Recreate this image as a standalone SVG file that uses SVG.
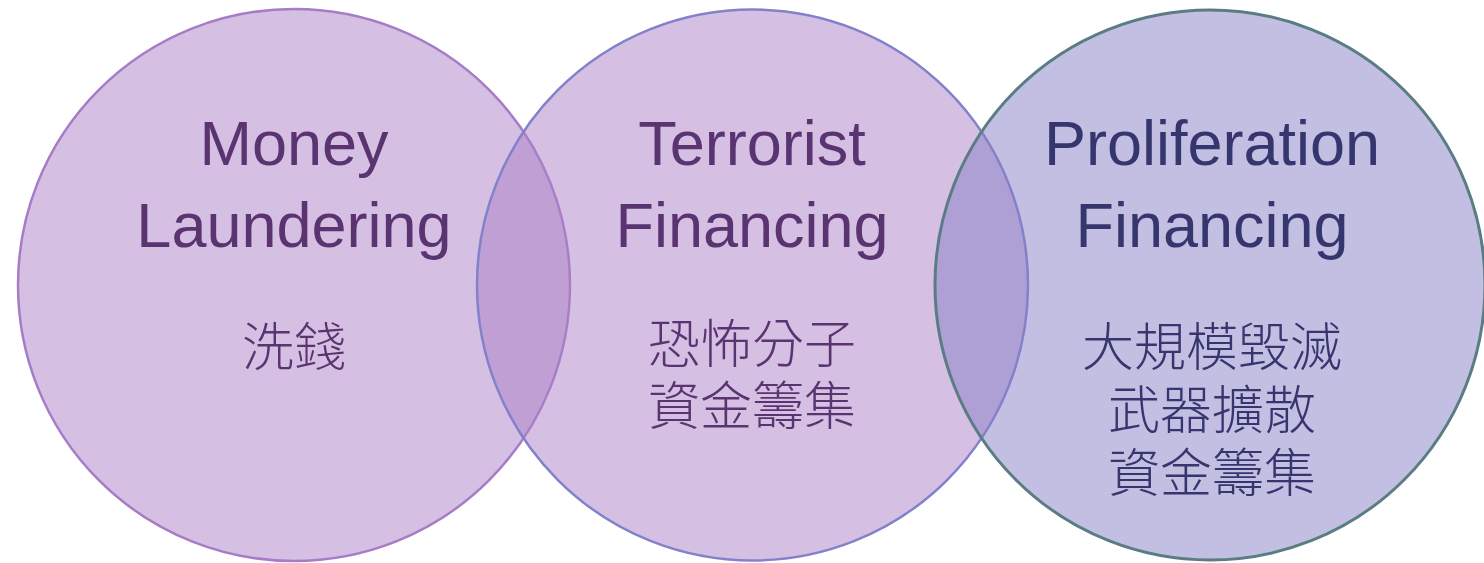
<svg xmlns="http://www.w3.org/2000/svg" width="1484" height="563" viewBox="0 0 1484 563">
<style>
.en{font-family:"Liberation Sans",Arial,sans-serif;font-size:63px;text-anchor:middle}
.zh{font-family:"Noto Sans CJK TC","Noto Sans CJK SC",sans-serif;font-size:52px;text-anchor:middle;font-weight:300}
.p{fill:#5A3470}
.b{fill:#36366F}
</style>
<rect width="1484" height="563" fill="#ffffff"/>
<g id="money-laundering">
<circle cx="294" cy="285" r="276" fill="#AB7FC7" fill-opacity="0.5" stroke="#A77CC6" stroke-width="2.5"/>
</g>
<g id="terrorist-financing">
<circle cx="752.5" cy="285" r="275.5" fill="#AB7FC7" fill-opacity="0.5" stroke="#8282CA" stroke-width="2.5"/>
</g>
<g id="proliferation-financing">
<circle cx="1210" cy="285" r="275" fill="#877FC7" fill-opacity="0.5" stroke="#5A7D84" stroke-width="3"/>
</g>
<g id="labels">
<text class="en p" x="294" y="165">Money</text>
<text class="en p" x="294" y="247">Laundering</text>
<text class="zh p" x="294" y="366">洗錢</text>
<text class="en p" x="752" y="165">Terrorist</text>
<text class="en p" x="752" y="247">Financing</text>
<text class="zh p" x="752" y="363">恐怖分子</text>
<text class="zh p" x="752" y="425">資金籌集</text>
<text class="en b" x="1212" y="165">Proliferation</text>
<text class="en b" x="1212" y="247">Financing</text>
<text class="zh b" x="1212" y="366">大規模毀滅</text>
<text class="zh b" x="1212" y="429">武器擴散</text>
<text class="zh b" x="1212" y="492">資金籌集</text>
</g>
<g id="connectors"></g>
</svg>
